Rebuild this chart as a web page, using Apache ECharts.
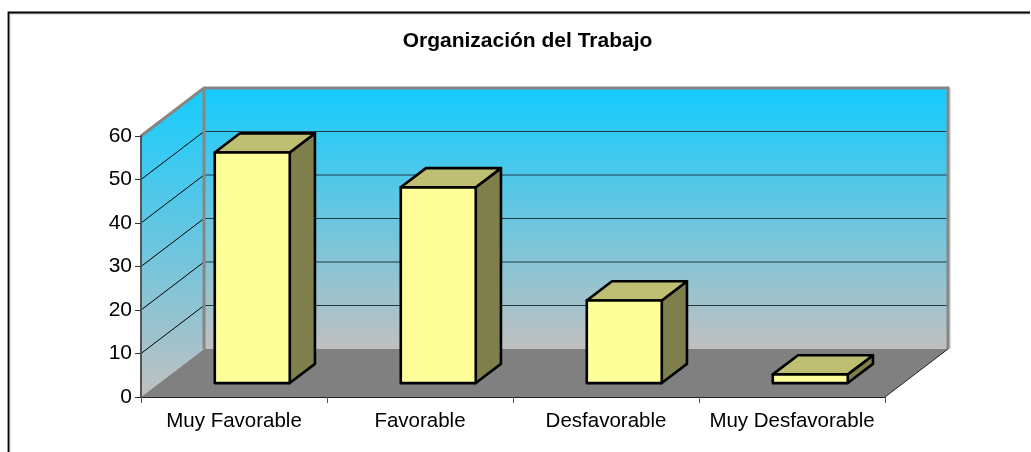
<!DOCTYPE html>
<html><head><meta charset="utf-8">
<style>html,body{margin:0;padding:0;background:#fff}#c{width:1031px;height:452px}</style>
<script src="https://cdn.jsdelivr.net/npm/echarts@6/dist/echarts.min.js"></script>
</head><body><div id="c"></div>
<script>
const categories = ['Muy Favorable', 'Favorable', 'Desfavorable', 'Muy Desfavorable'];
const values = [53, 45, 19, 2];
const gridValues = [10, 20, 30, 40, 50];
const yMax = 60;
const depthX = 63, depthY = -48;       // oblique projection of the chart's floor depth
const barShift = 0.29, barDepth = 0.40, barWidthRatio = 0.403;

const chart = echarts.init(document.getElementById('c'));

function wallItem(params, api) {
  const w = api.size([1, 0])[0];
  const c0 = api.coord([0, 0]), cN = api.coord([categories.length - 1, 0]), cT = api.coord([0, yMax]);
  const L = c0[0] - w / 2, R = cN[0] + w / 2, B = c0[1], T = cT[1];
  const grad = new echarts.graphic.LinearGradient(0, 0, 0, 1, [
    { offset: 0, color: '#14CCFF' }, { offset: 1, color: '#C0C0C0' }]);
  const grad2 = new echarts.graphic.LinearGradient(0, 0, 0, 1, [
    { offset: 0, color: '#14CCFF' }, { offset: 1, color: '#C0C0C0' }]);
  const dx = depthX, dy = depthY;
  const children = [];
  children.push({ type: 'polygon', shape: { points: [[L, T], [L + dx, T + dy], [L + dx, B + dy], [L, B]] }, style: { fill: grad } });
  children.push({ type: 'rect', shape: { x: L + dx, y: T + dy, width: R - L, height: B - T }, style: { fill: grad2 } });
  children.push({ type: 'polygon', shape: { points: [[L, B], [R, B], [R + dx, B + dy], [L + dx, B + dy]] }, style: { fill: '#808080' } });
  gridValues.forEach(v => {
    const y = api.coord([0, v])[1];
    children.push({ type: 'line', shape: { x1: L, y1: y, x2: L + dx, y2: y + dy }, style: { stroke: '#000', lineWidth: 1 } });
    children.push({ type: 'line', shape: { x1: L + dx, y1: y + dy, x2: R + dx, y2: y + dy }, style: { stroke: '#1c3a48', lineWidth: 1 } });
  });
  const gray = { stroke: '#868686', lineWidth: 3, fill: null };
  children.push({ type: 'line', shape: { x1: R + dx + 2, y1: T + dy, x2: R + dx + 2, y2: B + dy }, style: { stroke: '#b8b8b8', lineWidth: 1 } });
  children.push({ type: 'polyline', shape: { points: [[L, T], [L + dx, T + dy], [R + dx, T + dy], [R + dx, B + dy]] }, style: gray });
  children.push({ type: 'line', shape: { x1: L + dx, y1: T + dy, x2: L + dx, y2: B + dy }, style: gray });
  children.push({ type: 'line', shape: { x1: R, y1: B, x2: R + dx, y2: B + dy }, style: { stroke: '#222', lineWidth: 1 } });
  return { type: 'group', children };
}

function barItem(params, api) {
  const w = api.size([1, 0])[0];
  const base = api.coord([api.value(0), 0]), top = api.coord([api.value(0), api.value(1)]);
  const bw = w * barWidthRatio;
  const sx = depthX * barShift, sy = depthY * barShift;
  const ox = depthX * barDepth, oy = depthY * barDepth;
  const x0 = base[0] - bw / 2 + sx, x1 = x0 + bw, yb = base[1] + sy, yt = top[1] + sy;
  const line = { stroke: '#000', lineWidth: 2.6, lineJoin: 'round' };
  return { type: 'group', children: [
    { type: 'polygon', shape: { points: [[x1, yt], [x1 + ox, yt + oy], [x1 + ox, yb + oy], [x1, yb]] }, style: { fill: '#7F7F4C', ...line } },
    { type: 'polygon', shape: { points: [[x0, yt], [x0 + ox, yt + oy], [x1 + ox, yt + oy], [x1, yt]] }, style: { fill: '#BFBF73', ...line } },
    { type: 'rect', shape: { x: x0, y: yt, width: bw, height: yb - yt }, style: { fill: '#FFFF99', ...line } }
  ] };
}

chart.setOption({
  animation: false,
  backgroundColor: '#fff',
  textStyle: { fontFamily: 'Liberation Sans' },
  title: { text: 'Organización del Trabajo', left: 522.5, top: 26, textAlign: 'center',
    textStyle: { fontFamily: 'Liberation Sans', fontSize: 21, fontWeight: 'bold', color: '#000' } },
  grid: { left: 141, right: 146, top: 136, bottom: 55 },
  xAxis: { type: 'category', data: categories, boundaryGap: true, z: 5,
    axisLine: { lineStyle: { color: '#222', width: 1 } },
    axisTick: { show: true, length: 6, alignWithLabel: false, lineStyle: { color: '#555' } },
    axisLabel: { color: '#000', fontSize: 20.5, margin: 14, interval: 0, fontFamily: 'Liberation Sans' } },
  yAxis: { type: 'value', min: 0, max: yMax, interval: 10, z: 5,
    axisLine: { show: true, lineStyle: { color: '#555', width: 2 } },
    axisTick: { show: true, length: 6, lineStyle: { color: '#333' } },
    splitLine: { show: false },
    axisLabel: { color: '#000', fontSize: 21, margin: 9, fontFamily: 'Liberation Sans' } },
  series: [
    { type: 'custom', z: 1, renderItem: wallItem, data: [[0, 0]], silent: true, clip: false },
    { type: 'custom', z: 2, renderItem: barItem, data: values.map((v, i) => [i, v]), clip: false }
  ],
  graphic: [
    { type: 'polyline', z: 9, shape: { points: [[10, 452], [10, 14], [1030, 14]] }, style: { stroke: '#c4c4c4', lineWidth: 1, fill: null } },
    { type: 'polyline', z: 10, shape: { points: [[8.5, 452], [8.5, 12.5], [1030, 12.5]] }, style: { stroke: '#000', lineWidth: 1.8, fill: null } }
  ]
});
</script></body></html>
